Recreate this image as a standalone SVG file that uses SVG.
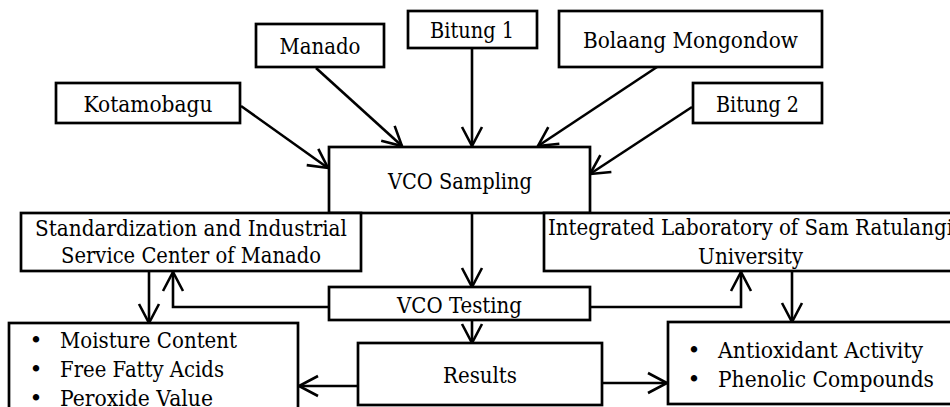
<svg xmlns="http://www.w3.org/2000/svg" width="950" height="407" viewBox="0 0 950 407">
<defs>
<style>
.box{fill:#fff;stroke:#000;stroke-width:2.7}
.t{font-family:"DejaVu Serif","Liberation Serif",serif;font-size:22px;fill:#000}
.c{text-anchor:middle}
.ln{fill:none;stroke:#000;stroke-width:2.6}
</style>
<marker id="ah" markerUnits="userSpaceOnUse" viewBox="-24 -14 28 28" markerWidth="28" markerHeight="28" refX="0" refY="0" orient="auto" overflow="visible">
<path d="M-19,-10 L0,0 L-19,10" fill="none" stroke="#000" stroke-width="2.6" stroke-linejoin="miter"/>
</marker>
</defs>
<rect width="950" height="407" fill="#fff"/>
<g id="connectors">
<line class="ln" x1="241" y1="106" x2="328" y2="168" marker-end="url(#ah)"/>
<line class="ln" x1="316" y1="68" x2="402" y2="146" marker-end="url(#ah)"/>
<line class="ln" x1="472" y1="48" x2="472" y2="146" marker-end="url(#ah)"/>
<line class="ln" x1="657" y1="67" x2="538" y2="146" marker-end="url(#ah)"/>
<line class="ln" x1="692" y1="107" x2="590" y2="174" marker-end="url(#ah)"/>
<line class="ln" x1="472" y1="213" x2="472" y2="287" marker-end="url(#ah)"/>
<polyline class="ln" points="329,307 173,307 173,272" marker-end="url(#ah)"/>
<polyline class="ln" points="590,307 741,307 741,272" marker-end="url(#ah)"/>
<line class="ln" x1="149" y1="271" x2="149" y2="323" marker-end="url(#ah)"/>
<line class="ln" x1="792" y1="271" x2="792" y2="322" marker-end="url(#ah)"/>
<line class="ln" x1="472" y1="320" x2="472" y2="343" marker-end="url(#ah)"/>
<line class="ln" x1="358" y1="386" x2="299" y2="386" marker-end="url(#ah)"/>
<line class="ln" x1="603" y1="383" x2="667" y2="383" marker-end="url(#ah)"/>
</g>
<g id="kotamobagu">
<rect class="box" x="56" y="83" width="184" height="40"/>
<text class="t c" x="148" y="112" textLength="129" lengthAdjust="spacingAndGlyphs">Kotamobagu</text>
</g>
<g id="manado">
<rect class="box" x="256" y="24" width="128" height="43"/>
<text class="t c" x="320" y="54" textLength="81" lengthAdjust="spacingAndGlyphs">Manado</text>
</g>
<g id="bitung1">
<rect class="box" x="408" y="11" width="129" height="37"/>
<text class="t c" x="472" y="38" textLength="84" lengthAdjust="spacingAndGlyphs">Bitung 1</text>
</g>
<g id="bolaang">
<rect class="box" x="559" y="11" width="263" height="56"/>
<text class="t c" x="690.5" y="48" textLength="215" lengthAdjust="spacingAndGlyphs">Bolaang Mongondow</text>
</g>
<g id="bitung2">
<rect class="box" x="693" y="83" width="129" height="40"/>
<text class="t c" x="757.5" y="112" textLength="83" lengthAdjust="spacingAndGlyphs">Bitung 2</text>
</g>
<g id="sampling">
<rect class="box" x="329" y="147" width="261" height="66"/>
<text class="t c" x="460" y="189" textLength="144" lengthAdjust="spacingAndGlyphs">VCO Sampling</text>
</g>
<g id="standardization">
<rect class="box" x="21" y="213" width="340" height="58"/>
<text class="t c" x="191" y="236" textLength="312" lengthAdjust="spacingAndGlyphs">Standardization and Industrial</text>
<text class="t c" x="191" y="263" textLength="260" lengthAdjust="spacingAndGlyphs">Service Center of Manado</text>
</g>
<g id="integrated">
<rect class="box" x="544" y="213" width="420" height="58"/>
<text class="t" x="548" y="235" textLength="405" lengthAdjust="spacingAndGlyphs">Integrated Laboratory of Sam Ratulangi</text>
<text class="t c" x="750.5" y="264" textLength="105" lengthAdjust="spacingAndGlyphs">University</text>
</g>
<g id="testing">
<rect class="box" x="329" y="287" width="261" height="33"/>
<text class="t c" x="459.5" y="313" textLength="125" lengthAdjust="spacingAndGlyphs">VCO Testing</text>
</g>
<g id="results">
<rect class="box" x="358" y="343" width="244" height="62"/>
<text class="t c" x="480" y="383" textLength="74" lengthAdjust="spacingAndGlyphs">Results</text>
</g>
<g id="physicochemical">
<rect class="box" x="9" y="323" width="289" height="100"/>
<text class="t c" x="36" y="348">•</text>
<text class="t" x="60" y="348" textLength="177" lengthAdjust="spacingAndGlyphs">Moisture Content</text>
<text class="t c" x="36" y="377">•</text>
<text class="t" x="60" y="377" textLength="164" lengthAdjust="spacingAndGlyphs">Free Fatty Acids</text>
<text class="t c" x="36" y="406">•</text>
<text class="t" x="60" y="406" textLength="153" lengthAdjust="spacingAndGlyphs">Peroxide Value</text>
</g>
<g id="bioactive">
<rect class="box" x="668" y="322" width="296" height="82"/>
<text class="t c" x="694" y="358">•</text>
<text class="t" x="718" y="358" textLength="205" lengthAdjust="spacingAndGlyphs">Antioxidant Activity</text>
<text class="t c" x="694" y="387">•</text>
<text class="t" x="718" y="387" textLength="216" lengthAdjust="spacingAndGlyphs">Phenolic Compounds</text>
</g>
</svg>
